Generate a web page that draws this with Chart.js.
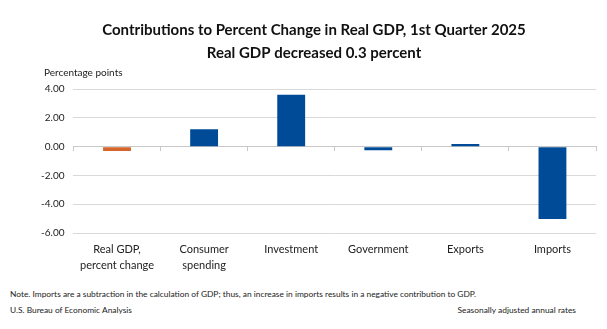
<!DOCTYPE html>
<html>
<head>
<meta charset="utf-8">
<script src="https://cdn.jsdelivr.net/npm/chart.js@4/dist/chart.umd.min.js"></script>
<style>
    body { margin: 0; background: #fff; }
    #wrap { position: relative; width: 607px; height: 329px; font-family: Lato, "Open Sans", sans-serif; color: #222; }
    #holder { position: absolute; left: 0; top: 0; width: 607px; height: 273px; }
    #ytitle { position: absolute; left: 44px; top: 66px; font-size: 10px; }
    #note { position: absolute; left: 10px; top: 289px; font-size: 8.4px; }
    #src { position: absolute; left: 10px; top: 305px; font-size: 8.4px; }
    #sa { position: absolute; right: 31px; top: 305px; font-size: 8.4px; }
</style>
</head>
<body>
<div id="wrap">
    <div id="holder"><canvas id="gdpChart"></canvas></div>
    <div id="ytitle">Percentage points</div>
    <div id="note">Note. Imports are a subtraction in the calculation of GDP; thus, an increase in imports results in a negative contribution to GDP.</div>
    <div id="src">U.S. Bureau of Economic Analysis</div>
    <div id="sa">Seasonally adjusted annual rates</div>
</div>
<script>
    // categories and values
    var categories = [
        ['Real GDP,', 'percent change'],
        ['Consumer', 'spending'],
        'Investment',
        'Government',
        'Exports',
        'Imports'
    ];
    var contributions = [-0.3, 1.21, 3.6, -0.25, 0.19, -5.03];
    var barColors = ['#d5652b', '#004b98', '#004b98', '#004b98', '#004b98', '#004b98'];
    var yTicks = [-6, -4, -2, 0, 2, 4];

    var ctx = document.getElementById('gdpChart');
    var gdpChart = new Chart(ctx, {
        type: 'bar',
        data: {
            labels: categories,
            datasets: [{
                data: contributions,
                backgroundColor: barColors,
                barPercentage: 0.32,
                categoryPercentage: 1
            }]
        },
        options: {
            responsive: true,
            maintainAspectRatio: false,
            animation: false,
            layout: { padding: { left: 32, right: 11, top: 0, bottom: 0 } },
            plugins: {
                legend: { display: false },
                tooltip: { enabled: false },
                title: {
                    display: true,
                    text: ['Contributions to Percent Change in Real GDP, 1st Quarter 2025', 'Real GDP decreased 0.3 percent'],
                    color: '#111',
                    font: { family: 'Lato', size: 15, weight: 'bold', lineHeight: 1.5 },
                    padding: { top: 19, bottom: 25 }
                }
            },
            scales: {
                x: {
                    grid: { display: false },
                    border: { display: false },
                    ticks: {
                        color: '#222',
                        font: { family: 'Lato', size: 11, lineHeight: 1.45 },
                        padding: 0,
                        maxRotation: 0,
                        autoSkip: false
                    }
                },
                x2: {
                    type: 'category',
                    labels: categories,
                    position: { y: 0 },
                    ticks: { display: false },
                    grid: { offset: true, drawOnChartArea: false, tickLength: 4, color: '#c8c8c8' },
                    border: { color: '#c8c8c8' }
                },
                y: {
                    min: -6,
                    max: 4,
                    afterBuildTicks: function (axis) {
                        axis.ticks = yTicks.map(function (v) { return { value: v }; });
                    },
                    grid: { color: '#d9d9d9', drawTicks: false },
                    border: { display: false },
                    ticks: {
                        color: '#222',
                        font: { family: 'Lato', size: 10 },
                        padding: 9,
                        callback: function (v) { return Number(v).toFixed(2); }
                    }
                }
            }
        }
    });
</script>
</body>
</html>
